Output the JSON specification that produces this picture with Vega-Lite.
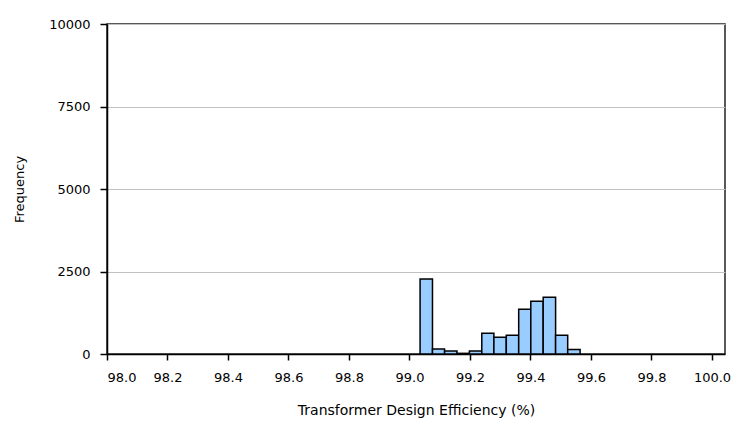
{
  "$schema": "https://vega.github.io/schema/vega-lite/v6.json",
  "autosize": "none",
  "width": 618,
  "height": 330,
  "padding": {"left": 107, "top": 24, "right": 19, "bottom": 84},
  "background": "white",
  "config": {
    "view": {"stroke": "#222222", "strokeWidth": 1.5},
    "font": "DejaVu Sans"
  },
  "data": {
    "values": [
      {"lo": 99.035, "hi": 99.076, "count": 2270},
      {"lo": 99.076, "hi": 99.116, "count": 150},
      {"lo": 99.116, "hi": 99.157, "count": 90},
      {"lo": 99.157, "hi": 99.198, "count": 20},
      {"lo": 99.198, "hi": 99.239, "count": 90},
      {"lo": 99.239, "hi": 99.279, "count": 630},
      {"lo": 99.279, "hi": 99.320, "count": 505},
      {"lo": 99.320, "hi": 99.361, "count": 565},
      {"lo": 99.361, "hi": 99.401, "count": 1355},
      {"lo": 99.401, "hi": 99.442, "count": 1600},
      {"lo": 99.442, "hi": 99.483, "count": 1720},
      {"lo": 99.483, "hi": 99.523, "count": 565},
      {"lo": 99.523, "hi": 99.564, "count": 140}
    ]
  },
  "mark": {"type": "bar", "fill": "#99ccff", "stroke": "#000000", "strokeWidth": 1.5},
  "encoding": {
    "x": {
      "field": "lo",
      "type": "quantitative",
      "scale": {"domain": [98, 100.043], "nice": false, "zero": false},
      "axis": {
        "title": "Transformer Design Efficiency (%)",
        "values": [98, 98.2, 98.4, 98.6, 98.8, 99, 99.2, 99.4, 99.6, 99.8, 100],
        "format": ".1f",
        "grid": false,
        "domainColor": "#000000",
        "domainWidth": 1.5,
        "tickColor": "#000000",
        "tickWidth": 1.5,
        "tickSize": 6,
        "labelFontSize": 13,
        "labelColor": "#000000",
        "labelPadding": 11,
        "titleFontSize": 14,
        "titleFontWeight": "normal",
        "titleColor": "#000000",
        "titlePadding": 19
      }
    },
    "x2": {"field": "hi"},
    "y": {
      "field": "count",
      "type": "quantitative",
      "scale": {"domain": [0, 10000], "nice": false},
      "axis": {
        "title": "Frequency",
        "values": [0, 2500, 5000, 7500, 10000],
        "format": "d",
        "grid": true,
        "gridColor": "#c0c0c0",
        "gridWidth": 1,
        "domainColor": "#000000",
        "domainWidth": 1.5,
        "tickColor": "#000000",
        "tickWidth": 1.5,
        "tickSize": 7,
        "labelFontSize": 13,
        "labelColor": "#000000",
        "labelPadding": 10,
        "titleFontSize": 13,
        "titleFontWeight": "normal",
        "titleColor": "#000000",
        "titlePadding": 22
      }
    },
    "y2": {"datum": 0}
  }
}
